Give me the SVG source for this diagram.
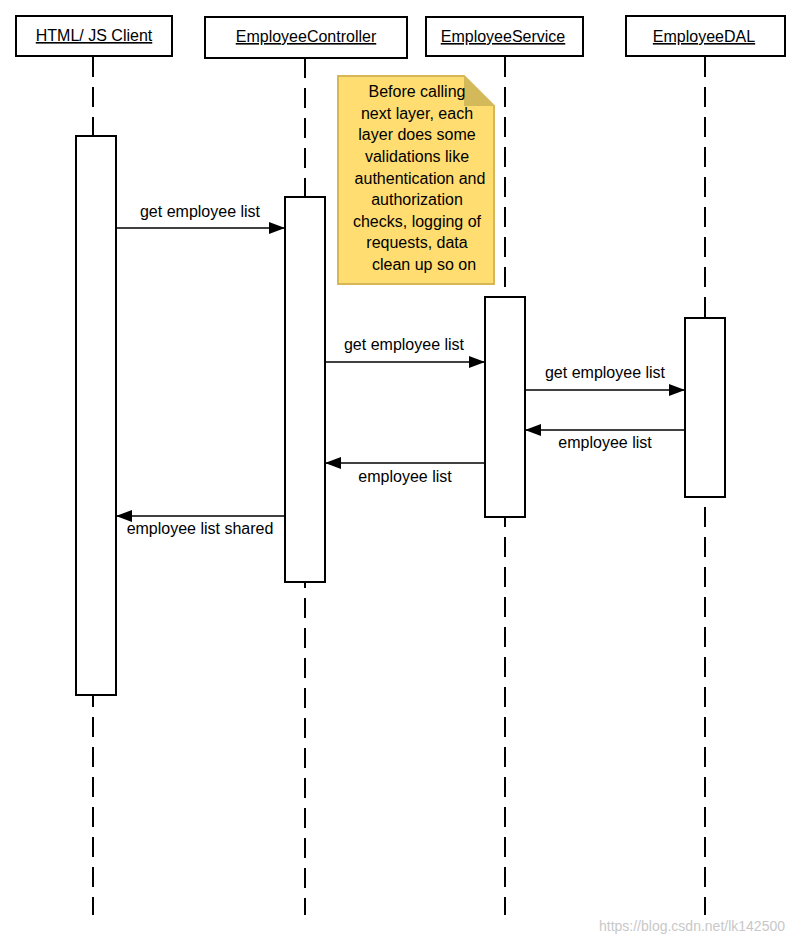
<svg xmlns="http://www.w3.org/2000/svg" width="795" height="943" viewBox="0 0 795 943">
<style>
text{font-family:"Liberation Sans",Arial,sans-serif;font-size:16px;fill:#000}
.hd{fill:#fff;stroke:#000;stroke-width:2}
.ht{text-anchor:middle;text-decoration:underline}
.ll{stroke:#000;stroke-width:2;stroke-dasharray:20 10;fill:none}
.act{fill:#fff;stroke:#000;stroke-width:2}
.msg{stroke:#000;stroke-width:1.5;fill:none;marker-end:url(#ah)}
.lb{text-anchor:middle}
.nt{text-anchor:middle;font-size:16px}
</style>
<defs>
<marker id="ah" markerWidth="16" markerHeight="12" refX="16" refY="6" orient="auto" markerUnits="userSpaceOnUse">
<path d="M0,0 L16,6 L0,12 Z" fill="#000"/>
</marker>
</defs>
<rect width="795" height="943" fill="#fff"/>
<g id="lifelines">
<line class="ll" x1="93" y1="57" x2="93" y2="915"/>
<line class="ll" x1="305" y1="58" x2="305" y2="915"/>
<line class="ll" x1="505" y1="57" x2="505" y2="915"/>
<line class="ll" x1="705" y1="57" x2="705" y2="915"/>
</g>
<g id="client"><rect class="hd" x="16" y="16" width="156" height="40"/><text class="ht" x="94" y="41">HTML/ JS Client</text></g>
<g id="controller"><rect class="hd" x="205" y="17" width="202" height="41"/><text class="ht" x="306" y="42">EmployeeController</text></g>
<g id="service"><rect class="hd" x="426" y="17" width="157" height="39"/><text class="ht" x="503" y="42">EmployeeService</text></g>
<g id="dal"><rect class="hd" x="626" y="16" width="159" height="40"/><text class="ht" x="704" y="42">EmployeeDAL</text></g>
<g id="note">
<path d="M338,76 H464 L494,106 V284 H338 Z" fill="#ffdd71" stroke="#d6b656" stroke-width="2"/>
<path d="M464,76 V106 H494 Z" fill="#d4b95a"/>
<text class="nt"><tspan x="417" y="97">Before calling</tspan><tspan x="417" y="119">next layer, each</tspan><tspan x="417" y="140">layer does some</tspan><tspan x="417" y="162">validations like</tspan><tspan x="420" y="184">authentication and</tspan><tspan x="417" y="205">authorization</tspan><tspan x="417" y="227">checks, logging of</tspan><tspan x="417" y="248">requests, data</tspan><tspan x="424" y="270">clean up so on</tspan></text>
</g>
<g id="activations">
<rect class="act" x="76" y="136" width="40" height="559"/>
<rect class="act" x="285" y="197" width="40" height="385"/>
<rect class="act" x="485" y="297" width="40" height="220"/>
<rect class="act" x="685" y="318" width="40" height="179"/>
</g>
<g id="connectors">
<line class="msg" x1="116" y1="228" x2="285" y2="228"/>
<text class="lb" x="200" y="217">get employee list</text>
<line class="msg" x1="325" y1="362" x2="485" y2="362"/>
<text class="lb" x="404" y="350">get employee  list</text>
<line class="msg" x1="525" y1="390" x2="685" y2="390"/>
<text class="lb" x="605" y="378">get employee list</text>
<line class="msg" x1="685" y1="430" x2="525" y2="430"/>
<text class="lb" x="605" y="448">employee list</text>
<line class="msg" x1="485" y1="463" x2="325" y2="463"/>
<text class="lb" x="405" y="482">employee list</text>
<line class="msg" x1="285" y1="516" x2="116" y2="516"/>
<text class="lb" x="200" y="534">employee list shared</text>
</g>
<text x="785" y="931" style="font-size:14px;fill:#c8c8c8;text-anchor:end">https://blog.csdn.net/lk142500</text>
</svg>
